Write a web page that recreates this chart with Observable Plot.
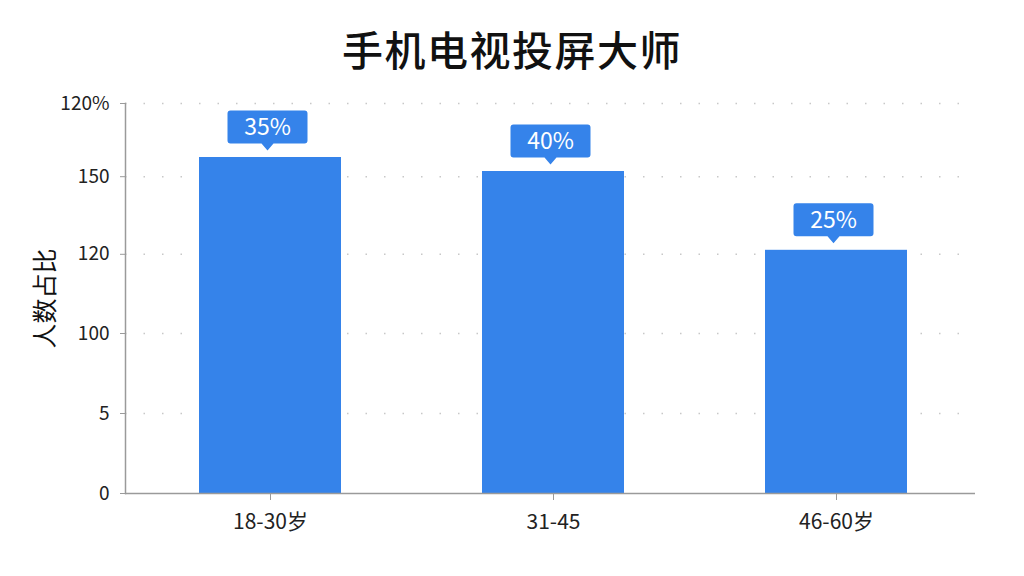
<!DOCTYPE html>
<html>
<head>
<meta charset="utf-8">
<script src="https://cdn.jsdelivr.net/npm/d3@7"></script>
<script src="https://cdn.jsdelivr.net/npm/@observablehq/plot@0.6"></script>
<style>
  html, body { margin: 0; padding: 0; background: #fff; }
  body { width: 1024px; height: 576px; overflow: hidden; font-family: "Noto Sans CJK SC", "Noto Sans", sans-serif; }
  #title { box-sizing: border-box; height: 85px; padding-top: 22px; text-align: center; font-size: 41px; line-height: 52px; font-weight: 500; color: #111; letter-spacing: 1.5px; }
  #chart svg { display: block; }
</style>
</head>
<body>
<div id="title">手机电视投屏大师</div>
<div id="chart"></div>
<script>
const title = "手机电视投屏大师";
const yLabel = "人数占比";
const groups = ["18-30岁", "31-45", "46-60岁"];
const barHeights = [4.2, 4.025, 3.04];
const percentLabels = ["35%", "40%", "25%"];
const yTicks = [0, 1, 2, 2.99, 3.96, 4.875];
const yTickLabels = ["0", "5", "100", "120", "150", "120%"];

const blue = "#3583ea";
const data = groups.map((g, i) => ({group: g, value: barHeights[i], label: percentLabels[i]}));

const callout = {
  draw(context) {
    const cx = -3, w = 40, top = -47, bottom = -14, tip = -7, r = 3;
    context.moveTo(cx - w + r, top);
    context.lineTo(cx + w - r, top);
    context.arcTo(cx + w, top, cx + w, top + r, r);
    context.lineTo(cx + w, bottom - r);
    context.arcTo(cx + w, bottom, cx + w - r, bottom, r);
    context.lineTo(cx + 6, bottom);
    context.lineTo(cx, tip);
    context.lineTo(cx - 6, bottom);
    context.lineTo(cx - w + r, bottom);
    context.arcTo(cx - w, bottom, cx - w, bottom - r, r);
    context.lineTo(cx - w, top + r);
    context.arcTo(cx - w, top, cx - w + r, top, r);
    context.closePath();
  }
};

const chart = Plot.plot({
  width: 1024,
  height: 491,
  marginTop: 18,
  marginBottom: 83,
  marginLeft: 125,
  marginRight: 49,
  style: {fontFamily: "'Noto Sans CJK SC', 'Noto Sans', sans-serif", color: "#222", background: "#fff"},
  x: {domain: groups, paddingInner: 0.497, paddingOuter: 0.2476, align: 0.52},
  y: {domain: [0, 4.875]},
  marks: [
    Plot.gridY(yTicks.slice(1), {stroke: "#c8c8c8", strokeOpacity: 1, strokeWidth: 1.5, strokeDasharray: "1.5,17"}),
    Plot.barY(data, {x: "group", y: "value", fill: blue}),
    Plot.ruleY([0], {stroke: "#9a9a9a", strokeWidth: 1.5}),
    Plot.frame({anchor: "left", stroke: "#9a9a9a", strokeWidth: 1.5}),
    Plot.axisY({ticks: yTicks, tickFormat: (d, i) => yTickLabels[i], tickSize: 5, tickPadding: 11, fontSize: 19, label: null, stroke: "#9a9a9a"}),
    Plot.axisX({tickSize: 7, tickPadding: 14, fontSize: 21, label: null, stroke: "#9a9a9a"}),
    Plot.text([yLabel], {frameAnchor: "left", textAnchor: "middle", rotate: -90, dx: -80, fontSize: 25, fill: "#111"}),
    Plot.dot(data, {x: "group", y: "value", symbol: callout, fill: blue, stroke: "none"}),
    Plot.text(data, {x: "group", y: "value", text: "label", dx: -3, dy: -30, fill: "white", fontSize: 23})
  ]
});
document.getElementById("chart").appendChild(chart);
</script>
</body>
</html>
